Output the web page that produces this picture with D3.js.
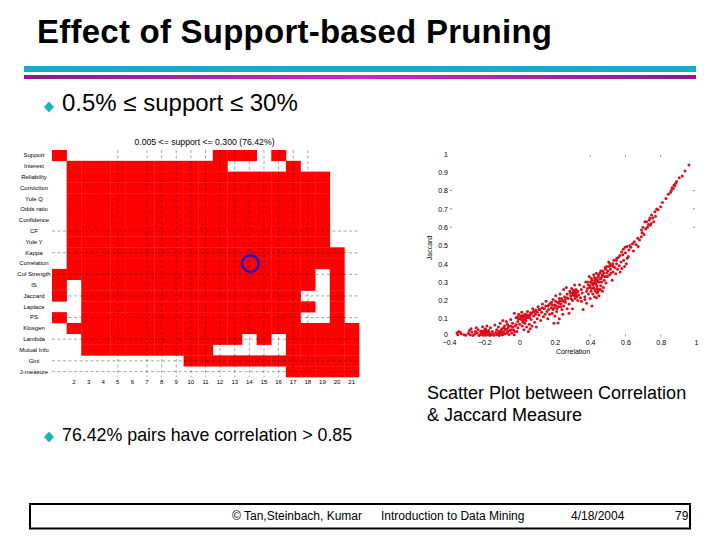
<!DOCTYPE html>
<html><head><meta charset="utf-8">
<script src="https://cdnjs.cloudflare.com/ajax/libs/d3/7.8.5/d3.min.js"></script>
<style>html,body{margin:0;background:#fff}svg{display:block}text{font-family:"Liberation Sans",Arial,sans-serif;fill:#000}</style>
</head><body><svg id="c" width="720" height="540"></svg>
<script>
const titleText="Effect of Support-based Pruning";
const bullet1="0.5% ≤ support ≤ 30%";
const bullet2="76.42% pairs have correlation > 0.85";
const captionLines=["Scatter Plot between Correlation","& Jaccard Measure"];
const footer=["© Tan,Steinbach, Kumar","Introduction to Data Mining","4/18/2004","79"];
const heatTitle="0.005 <= support <= 0.300 (76.42%)";
const measures=["Support","Interest","Reliability","Conviction","Yule Q","Odds ratio","Confidence","CF","Yule Y","Kappa","Correlation","Col Strength","IS","Jaccard","Laplace","PS","Klosgen","Lambda","Mutual Info","Gini","J-measure"];
const columns=d3.range(1,22);
const columnLabels=d3.range(2,22);
const gridRows=[
"100000000001110100000",
"011111111111000010000",
"011111111111111111100",
"011111111111111111100",
"011111111111111111100",
"011111111111111111100",
"011111111111111111100",
"011111111111111111100",
"011111111111111111100",
"011111111111111111110",
"011111111111111111110",
"111111111111111111010",
"101111111111111111010",
"101111111111111110010",
"001111111111111111010",
"101111111111111110010",
"011111111111111111111",
"001111111111101011111",
"001111111110000011111",
"000000000111111111111",
"000000000000000011111"];
const dashedColumns=[5,7,8,9,10,11,12,13,14,15,16,17,18];
const dashedRows=["CF","Kappa","Col Strength","Jaccard","PS","Lambda","Gini","J-measure"];
const marker={column:14,measure:"Correlation"};

const lowBand=[[-.355,.022],[-.35,.012],[-.345,.03],[-.335,.025],[-.33,.018],[-.315,.012],[-.305,.01],[-.29,.02],[-.285,.036],[-.28,.012],[-.275,.045],[-.27,.028],[-.265,.008],[-.255,.015],[-.25,.03],[-.245,.05],[-.24,.022],[-.235,.04],[-.23,.008],[-.225,.012],[-.22,.03],[-.215,.02],[-.21,.056],[-.205,.01],[-.2,.036],[-.2,.018],[-.195,.045],[-.19,.01],[-.19,.028],[-.185,.06],[-.18,.015],[-.175,.036],[-.17,.022],[-.17,.008],[-.165,.05],[-.16,.012],[-.155,.03],[-.15,.018],[-.145,.01],[-.14,.065],[-.135,.025],[-.13,.012],[-.13,.04],[-.125,.018],[-.12,.055],[-.115,.008],[-.11,.03],[-.11,.075],[-.105,.02],[-.1,.045],[-.1,.012],[-.095,.09],[-.09,.03],[-.085,.06],[-.08,.018],[-.08,.042],[-.075,.085],[-.07,.025],[-.07,.07],[-.065,.05],[-.06,.014],[-.055,.035],[-.05,.095],[-.05,.06],[-.045,.022],[-.04,.075],[-.035,.04],[-.03,.012],[-.03,.13],[-.025,.06],[-.02,.105],[-.015,.03],[-.01,.085],[-.01,.05]];
const lowCluster=[[-.215,.033],[-.208,.024],[-.198,.012],[-.192,.04],[-.186,.022],[-.178,.03],[-.172,.014],[-.21,.012],[-.202,.026],[-.12,.016],[-.118,.03],[-.112,.02],[-.106,.036],[-.102,.026],[-.096,.012],[-.09,.05],[-.088,.018],[-.075,.04],[-.066,.03],[-.062,.06],[-.048,.04],[-.04,.055],[-.028,.03],[-.02,.068],[-.012,.11],[-.006,.1]];
const zeroBand=[[-.005,.125],[0,.07],[.002,.1],[.005,.115],[.01,.095],[.012,.135],[.015,.06],[.018,.08],[.02,.11],[.025,.1],[.025,.04],[.03,.125],[.03,.075],[.035,.09],[.04,.11],[.04,.055],[.045,.14],[.05,.105],[.05,.03],[.055,.07],[.06,.12],[.06,.045],[.065,.095],[.07,.13],[.07,.06],[.075,.155],[.08,.115],[.085,.08],[.085,.14],[.09,.125],[.095,.055],[.1,.135],[.1,.1],[.105,.165],[.11,.12],[.115,.15],[.12,.09],[.125,.135],[.13,.18],[.135,.11],[.14,.155],[.145,.125],[.15,.195],[.155,.14],[.16,.1],[.16,.17],[.165,.15],[.17,.125],[.175,.185],[.18,.16],[.185,.13],[.19,.205],[.19,.15],[.195,.075],[.2,.175],[.2,.115],[.205,.225],[.21,.14],[.215,.19],[.218,.076],[.22,.165],[.225,.1],[.225,.21],[.23,.235],[.235,.18],[.24,.15],[.24,.2],[.245,.125],[.25,.26],[.25,.17],[.255,.22],[.26,.19],[.265,.27],[.27,.155],[.27,.235],[.275,.21],[.28,.13],[.28,.18],[.285,.25],[.29,.225],[.295,.265],[.3,.2],[.3,.155]];
const zeroCluster=[[.008,.105],[.016,.118],[.022,.09],[.028,.112],[.034,.1],[.042,.122],[.048,.118],[.056,.108],[.062,.132],[.078,.14],[.092,.148],[.11,.15],[.128,.16],[.148,.17],[.168,.178],[.182,.19],[.186,.175],[.196,.16],[.204,.195],[.208,.17],[.212,.155],[.222,.185],[.228,.195],[.232,.165],[.238,.21],[.248,.195],[.258,.205],[.268,.215],[.288,.24],[.292,.21],[.298,.24],[.302,.23],[.306,.255],[.308,.235],[.314,.24],[.318,.25],[.322,.225],[.326,.245]];
const midBand=[[.305,.245],[.31,.225],[.312,.284],[.315,.21],[.32,.235],[.32,.26],[.325,.22],[.33,.2],[.33,.25],[.335,.23],[.34,.285],[.345,.215],[.35,.26],[.35,.195],[.355,.24],[.36,.15],[.365,.275],[.37,.22],[.37,.205],[.375,.3],[.38,.25],[.38,.185],[.385,.265],[.39,.235],[.395,.33],[.4,.21],[.4,.28],[.405,.25],[.407,.32],[.41,.295],[.41,.17],[.415,.235],[.42,.34],[.42,.27],[.425,.22],[.428,.31],[.43,.25],[.432,.29],[.435,.348],[.436,.215],[.44,.265],[.44,.24],[.445,.33],[.445,.3],[.45,.26],[.45,.225],[.455,.32],[.46,.28],[.46,.36],[.465,.3],[.47,.25],[.47,.34],[.475,.27],[.48,.31],[.485,.38],[.49,.33],[.49,.295],[.495,.35],[.5,.36],[.505,.41],[.51,.34],[.515,.37],[.52,.39],[.525,.31],[.53,.355],[.535,.42],[.54,.38],[.545,.345],[.55,.4],[.555,.37],[.56,.435],[.565,.39],[.57,.355],[.575,.41],[.58,.375],[.585,.45],[.59,.42],[.595,.385],[.6,.46],[.605,.4],[.61,.43],[.616,.44],[.62,.475],[.625,.5],[.63,.49],[.64,.51],[.645,.47],[.65,.52],[.66,.505],[.67,.54],[.672,.494]];
const midCluster=[[.385,.3],[.39,.285],[.396,.27],[.402,.3],[.408,.265],[.412,.31],[.416,.285],[.422,.295],[.424,.325],[.426,.26],[.43,.3],[.434,.32],[.438,.28],[.442,.31],[.444,.25],[.448,.34],[.452,.3],[.456,.35],[.458,.26],[.462,.32],[.468,.33],[.472,.36],[.478,.35],[.482,.33],[.488,.37],[.494,.385],[.498,.33],[.508,.385],[.512,.4],[.518,.35],[.528,.4],[.532,.385],[.548,.42],[.552,.43],[.568,.445],[.578,.465],[.588,.48],[.598,.49],[.608,.495]];
const highBand=[[.68,.53],[.69,.548],[.691,.585],[.695,.57],[.7,.6],[.705,.56],[.71,.63],[.715,.59],[.72,.63],[.725,.6],[.73,.615],[.735,.64],[.739,.65],[.74,.61],[.745,.62],[.748,.667],[.755,.65],[.76,.63],[.767,.685],[.77,.66],[.777,.7],[.785,.695],[.8,.712],[.81,.735],[.83,.757],[.843,.78],[.855,.79],[.86,.8],[.865,.815],[.871,.812],[.875,.83],[.88,.826],[.885,.84],[.89,.85],[.905,.87],[.922,.88],[.9375,.907],[.96,.94]];
const xTickValues=[-.4,-.2,0,.2,.4,.6,.8,1];
const yTickValues=[0,.1,.2,.3,.4,.5,.6,.7,.8,.9,1];
const xMarkValues=[.4,.6,.8];
const yMarkValues=[.6,.7,.8];

const svg=d3.select("#c");
svg.append("text").attr("x",37).attr("y",43).attr("font-size",33).attr("font-weight","bold").attr("textLength",515).text(titleText);
const defs=svg.append("defs");
const grad=defs.append("linearGradient").attr("id","mg");
grad.selectAll("stop").data([["0%","#8a1a8e"],["50%","#d61fd6"],["100%","#8a1a8e"]]).join("stop").attr("offset",d=>d[0]).attr("stop-color",d=>d[1]);
svg.append("rect").attr("x",24).attr("y",66).attr("width",672).attr("height",6).attr("fill","#19a9c9");
svg.append("rect").attr("x",24).attr("y",75).attr("width",672).attr("height",4).attr("fill","url(#mg)");
function diamond(x,y){svg.append("path").attr("d",`M${x} ${y-5.5}L${x+5} ${y}L${x} ${y+5.5}L${x-5} ${y}Z`).attr("fill","#20b2b8");}
diamond(49,107);diamond(49,437);
svg.append("text").attr("x",62).attr("y",111).attr("font-size",24).text(bullet1);
svg.append("text").attr("x",62).attr("y",441).attr("font-size",17.8).text(bullet2);
captionLines.forEach((t,i)=>svg.append("text").attr("x",427).attr("y",399+i*22).attr("font-size",18).text(t));

// heat map
const hx=d3.scaleBand().domain(columns).range([52,359]);
const hy=d3.scaleBand().domain(measures).range([150,377]);
const cells=[];
gridRows.forEach((r,i)=>[...r].forEach((c,j)=>{if(c==="1")cells.push({m:measures[i],c:columns[j]});}));
const heat=svg.append("g");
heat.selectAll("rect").data(cells).join("rect").attr("x",d=>hx(d.c)).attr("y",d=>hy(d.m)).attr("width",hx.bandwidth()+.3).attr("height",hy.bandwidth()+.3).attr("fill","#ff0000");
const cx=c=>hx(c)+hx.bandwidth()/2, cy=m=>hy(m)+hy.bandwidth()/2;
heat.selectAll(".v").data(dashedColumns).join("line").attr("x1",cx).attr("x2",cx).attr("y1",150).attr("y2",377).attr("stroke","#000").attr("stroke-opacity",.5).attr("stroke-width",.7).attr("stroke-dasharray","3 2.5");
heat.selectAll(".h").data(dashedRows).join("line").attr("y1",cy).attr("y2",cy).attr("x1",52).attr("x2",359).attr("stroke","#000").attr("stroke-opacity",.5).attr("stroke-width",.7).attr("stroke-dasharray","3 2.5");
svg.append("text").attr("x",204.5).attr("y",145).attr("text-anchor","middle").attr("font-size",8.7).text(heatTitle);
svg.append("g").attr("transform","translate(52,0)").call(d3.axisLeft(hy).tickSize(0).tickPadding(8)).call(g=>g.select(".domain").remove()).selectAll("text").attr("x",-18).attr("text-anchor","middle").attr("font-size",6).attr("font-family","Liberation Sans");
svg.append("g").attr("transform","translate(0,377)").call(d3.axisBottom(hx).tickValues(columnLabels).tickSize(0).tickPadding(3)).call(g=>g.select(".domain").remove()).selectAll("text").attr("font-size",6).attr("font-family","Liberation Sans");
svg.append("circle").attr("cx",cx(marker.column)+1).attr("cy",cy(marker.measure)).attr("r",8.3).attr("fill","none").attr("stroke","#2c10c4").attr("stroke-width",2.6);

// scatter
const sx=d3.scaleLinear().domain([-.4,1]).range([449,696]);
const sy=d3.scaleLinear().domain([0,1]).range([337,154]);
const pts=[...lowBand,...lowCluster,...zeroBand,...zeroCluster,...midBand,...midCluster,...highBand];
svg.append("g").selectAll("circle").data(pts).join("circle").attr("cx",d=>sx(d[0])).attr("cy",d=>sy(d[1])).attr("r",1.5).attr("fill","#dc0f1e");
svg.append("g").attr("transform","translate(0,338)").call(d3.axisBottom(sx).tickValues(xTickValues).tickSize(0).tickPadding(2).tickFormat(d3.format("~g"))).call(g=>g.select(".domain").remove()).selectAll("text").attr("font-size",7).attr("font-family","Liberation Sans");
svg.append("g").attr("transform","translate(448,0)").call(d3.axisLeft(sy).tickValues(yTickValues).tickSize(0).tickPadding(0).tickFormat(d3.format("~g"))).call(g=>g.select(".domain").remove()).selectAll("text").attr("font-size",7).attr("font-family","Liberation Sans").attr("dy",d=>d===0?"-0.05em":"0.32em");
const mk=svg.append("g").attr("stroke","#444").attr("stroke-width",.6);
mk.selectAll(".a").data(xMarkValues).join("line").attr("x1",sx).attr("x2",sx).attr("y1",155).attr("y2",157);
mk.selectAll(".b").data(xMarkValues).join("line").attr("x1",sx).attr("x2",sx).attr("y1",334.5).attr("y2",336.5);
mk.selectAll(".c").data(yMarkValues).join("line").attr("y1",sy).attr("y2",sy).attr("x1",450).attr("x2",452);
mk.selectAll(".d").data(yMarkValues).join("line").attr("y1",sy).attr("y2",sy).attr("x1",693).attr("x2",695);
svg.append("text").attr("transform","translate(432,248) rotate(-90)").attr("text-anchor","middle").attr("font-size",7).text("Jaccard");
svg.append("text").attr("x",573).attr("y",354).attr("text-anchor","middle").attr("font-size",7).text("Correlation");

// footer
svg.append("rect").attr("x",30).attr("y",504).attr("width",660).attr("height",24.5).attr("fill","none").attr("stroke","#000").attr("stroke-width",2);
[232,381,571,675].forEach((x,i)=>svg.append("text").attr("x",x).attr("y",520).attr("font-size",12).text(footer[i]));
</script></body></html>
